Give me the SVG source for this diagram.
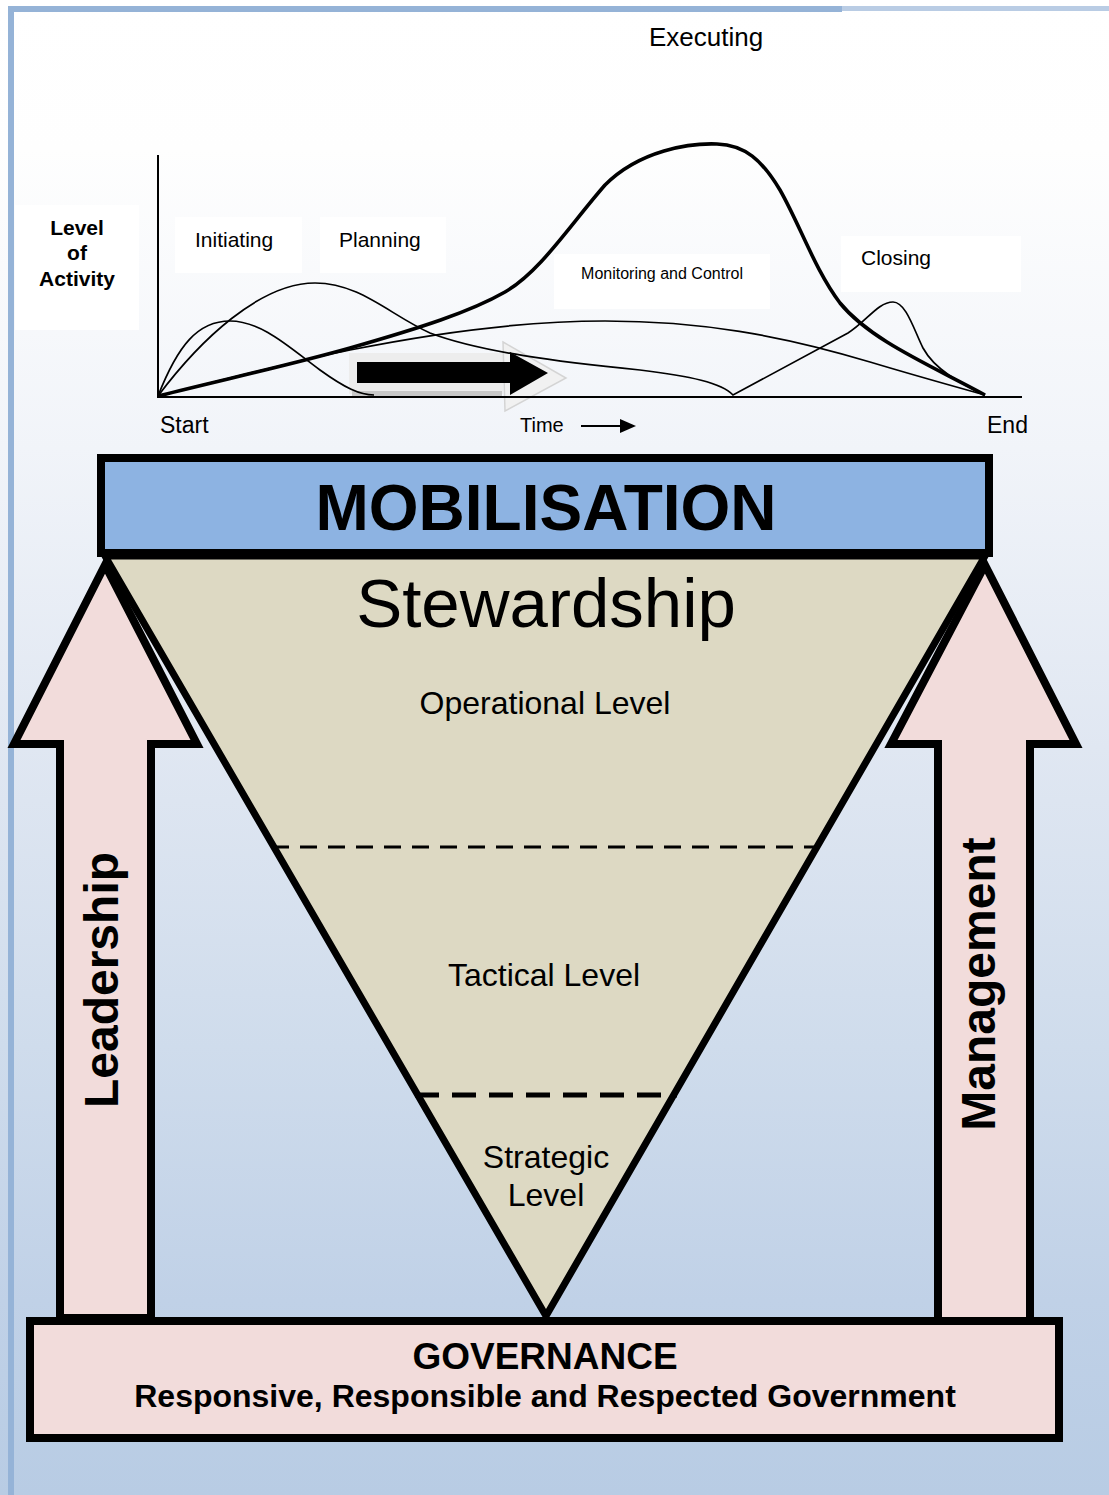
<svg xmlns="http://www.w3.org/2000/svg" width="1109" height="1495" viewBox="0 0 1109 1495">
  <defs>
    <linearGradient id="bg" gradientUnits="userSpaceOnUse" x1="0" y1="0" x2="0" y2="1495">
      <stop offset="0" stop-color="#ffffff"/>
      <stop offset="0.1" stop-color="#fefefe"/>
      <stop offset="0.3" stop-color="#f1f4f9"/>
      <stop offset="0.5" stop-color="#e0e7f2"/>
      <stop offset="0.7" stop-color="#cfdcec"/>
      <stop offset="0.87" stop-color="#c0d1e7"/>
      <stop offset="1" stop-color="#b8cce4"/>
    </linearGradient>
  </defs>
  <style>
    text { font-family: "Liberation Sans", Arial, sans-serif; fill: #000; }
    .lbl { font-size: 21px; }
    .bold { font-weight: bold; }
    .mid { text-anchor: middle; }
    .curve { fill: none; stroke: #000; stroke-width: 1.7; }
    .thick { fill: none; stroke: #000; stroke-width: 3.6; stroke-linejoin: round; }
    .axis { stroke: #000; stroke-width: 2; }
    .labelbox { fill: #ffffff; }
    .block { stroke: #000; stroke-width: 8; stroke-linejoin: miter; }
    .pink { fill: #f2dcdb; }
    .level { font-size: 32px; }
  </style>

  <!-- page background and frame -->
  <rect x="0" y="0" width="1109" height="1495" fill="url(#bg)"/>
  <rect x="8" y="6" width="6" height="1489" fill="#95b3d7"/>
  <rect x="8" y="6" width="834" height="6" fill="#95b3d7"/>
  <rect x="842" y="6" width="267" height="5" fill="#b9cce4"/>

  <!-- activity chart -->
  <g id="chart">
    <rect class="labelbox" x="15" y="205" width="124" height="125"/>
    <rect class="labelbox" x="175" y="217" width="127" height="56"/>
    <rect class="labelbox" x="320" y="217" width="126" height="56"/>
    <rect class="labelbox" x="554" y="254" width="216" height="55"/>
    <rect class="labelbox" x="841" y="236" width="180" height="56"/>

    <!-- soft shadow under the progress arrow -->
    <rect x="349" y="353" width="154" height="41" fill="#ededed"/>
    <rect x="352" y="391" width="150" height="5" fill="#c8c8c8"/>
    <polygon points="503,342 566,378 505,411" fill="#f1f1f1" stroke="#d4d4d4" stroke-width="1.5"/>

    <line class="axis" x1="158" y1="155" x2="158" y2="398"/>
    <line class="axis" x1="157" y1="397" x2="1022" y2="397"/>

    <!-- initiating -->
    <path class="curve" d="M158,396 C178,345 198,321 230,321 C262,321 290,348 320,370 C345,388 360,395 374,395"/>
    <!-- planning, then closing -->
    <path class="curve" d="M158,396 C200,340 260,283 315,283 C360,283 390,315 430,333 C480,352 560,362 640,370 C690,376 722,383 733,395 L848,333 C866,322 878,302 893,302 C906,302 914,330 923,348 C935,370 960,383 985,395"/>
    <!-- monitoring and control -->
    <path class="curve" d="M158,396 C230,378 300,360 350,350 C440,332 530,321 605,321 C700,321 780,335 870,362 C920,377 960,388 985,395"/>
    <!-- executing -->
    <path class="thick" d="M158,396 C230,378 290,365 350,348 C420,328 470,312 505,292 C540,272 570,225 605,185 C640,150 690,143 717,144 C745,145 762,160 780,190 C800,225 815,270 840,303 C870,340 930,365 985,395"/>

    <text class="lbl bold mid" x="77" y="235">Level</text>
    <text class="lbl bold mid" x="77" y="260">of</text>
    <text class="lbl bold mid" x="77" y="286">Activity</text>
    <text class="lbl" x="195" y="247">Initiating</text>
    <text class="lbl" x="339" y="247">Planning</text>
    <text class="mid" x="662" y="279" font-size="16">Monitoring and Control</text>
    <text class="lbl" x="861" y="265">Closing</text>
    <text x="649" y="46" font-size="26">Executing</text>
    <text x="160" y="433" font-size="23">Start</text>
    <text x="520" y="432" font-size="20">Time</text>
    <text x="987" y="433" font-size="23">End</text>
  </g>

  <!-- progress arrows -->
  <g id="connectors">
    <polygon points="357,362 510,362 510,352 548,373 510,395 510,383 357,383" fill="#000"/>
    <line x1="581" y1="426" x2="622" y2="426" stroke="#000" stroke-width="2"/>
    <polygon points="620,419 636,426 620,433" fill="#000"/>
  </g>

  <!-- leadership arrow -->
  <g id="leadership">
    <polygon class="block pink" points="105,565 197,744 151,744 151,1318 60,1318 60,744 14,744"/>
    <text class="bold mid" font-size="48" transform="translate(118,980) rotate(-90)">Leadership</text>
  </g>

  <!-- management arrow -->
  <g id="management">
    <polygon class="block pink" points="985,565 1076,744 1030,744 1030,1323 938,1323 938,744 891,744"/>
    <text class="bold mid" font-size="48" transform="translate(995,984) rotate(-90)">Management</text>
  </g>

  <!-- stewardship funnel -->
  <g id="stewardship">
    <polygon points="105,556 985,556 546,1316" fill="#ddd9c3" stroke="#000" stroke-width="7" stroke-linejoin="miter"/>
    <line x1="272" y1="847" x2="818" y2="847" stroke="#000" stroke-width="3" stroke-dasharray="17 11"/>
    <line x1="415" y1="1095" x2="677" y2="1095" stroke="#000" stroke-width="5" stroke-dasharray="24 13"/>
    <text class="mid" x="546" y="627" font-size="69">Stewardship</text>
    <text class="mid level" x="545" y="714">Operational Level</text>
    <text class="mid level" x="544" y="986">Tactical Level</text>
    <text class="mid level" x="546" y="1168">Strategic</text>
    <text class="mid level" x="546" y="1206">Level</text>
  </g>

  <!-- mobilisation bar -->
  <g id="mobilisation">
    <rect class="block" x="101" y="458" width="888" height="95" fill="#8db3e2"/>
    <text class="bold mid" x="546" y="530" font-size="64">MOBILISATION</text>
  </g>

  <!-- governance base -->
  <g id="governance">
    <rect class="block pink" x="30" y="1321" width="1029" height="117"/>
    <text class="bold mid" x="545" y="1369" font-size="37">GOVERNANCE</text>
    <text class="bold mid" x="545" y="1407" font-size="32">Responsive, Responsible and Respected Government</text>
  </g>
</svg>
